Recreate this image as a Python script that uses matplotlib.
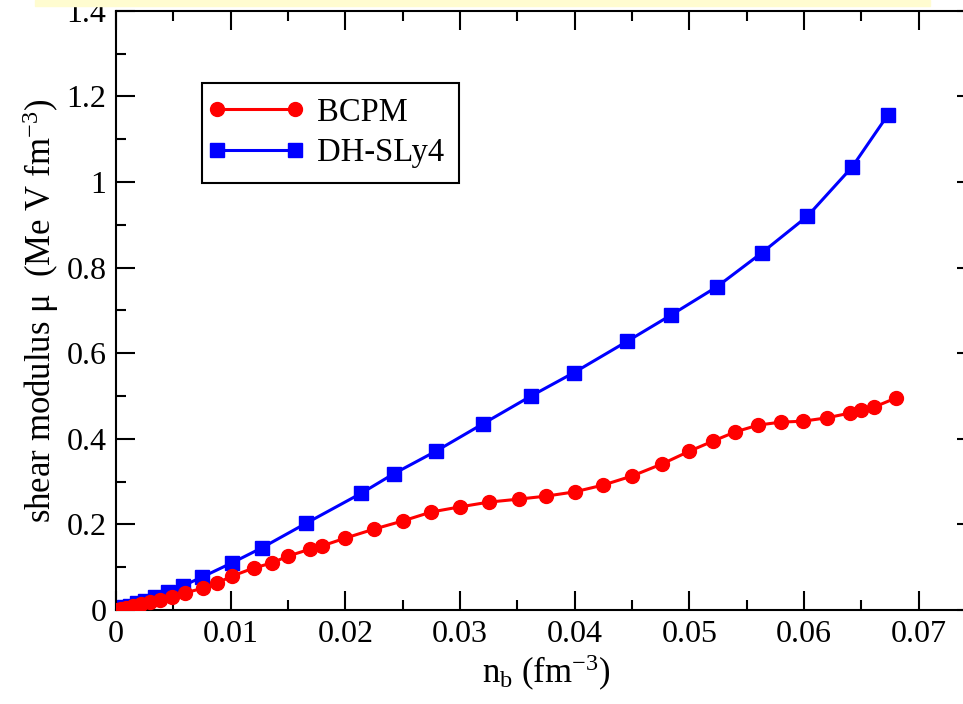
import matplotlib
matplotlib.use('Agg')
import matplotlib.pyplot as plt
from matplotlib.ticker import MultipleLocator, FormatStrFormatter
from matplotlib.patches import Rectangle
from matplotlib.lines import Line2D
from matplotlib.legend_handler import HandlerLine2D

# BCPM crust shear modulus
nb_bcpm = [0.0001, 0.0004, 0.0009, 0.0015, 0.0022, 0.0030, 0.0038, 0.0049, 0.0060,
           0.0076, 0.0088, 0.0101, 0.0120, 0.0136, 0.0150, 0.0169, 0.0180, 0.0200,
           0.0225, 0.0250, 0.0275, 0.0300, 0.0325, 0.0351, 0.0375, 0.0400, 0.0425,
           0.0450, 0.0476, 0.0500, 0.0521, 0.0540, 0.0560, 0.0580, 0.0599, 0.0620,
           0.0640, 0.0650, 0.0661, 0.0680]
mu_bcpm = [0.0005, 0.002, 0.005, 0.009, 0.013, 0.018, 0.023, 0.030, 0.040,
           0.051, 0.063, 0.079, 0.098, 0.110, 0.126, 0.142, 0.150, 0.168,
           0.189, 0.208, 0.229, 0.241, 0.252, 0.259, 0.266, 0.276, 0.292,
           0.313, 0.341, 0.371, 0.395, 0.416, 0.432, 0.439, 0.441, 0.449,
           0.460, 0.467, 0.474, 0.495]

# DH-SLy4
nb_sly4 = [0.0003, 0.0007, 0.0012, 0.0018, 0.0025, 0.0034, 0.0045, 0.0058, 0.0075,
           0.0101, 0.0127, 0.0166, 0.0214, 0.0242, 0.0279, 0.0320, 0.0362, 0.0399,
           0.0446, 0.0484, 0.0524, 0.0563, 0.0603, 0.0642, 0.0673]
mu_sly4 = [0.003, 0.006, 0.010, 0.016, 0.022, 0.030, 0.042, 0.056, 0.077,
           0.110, 0.145, 0.203, 0.273, 0.318, 0.371, 0.435, 0.500, 0.554,
           0.628, 0.689, 0.755, 0.834, 0.920, 1.035, 1.156]

plt.rcParams['font.family'] = ['Liberation Serif', 'DejaVu Serif']
plt.rcParams['mathtext.default'] = 'regular'

fig = plt.figure(figsize=(9.63, 7.04), dpi=100)
# axes run past the right edge, like the cropped original
ax = fig.add_axes([0.1205, 0.1335, 0.893, 0.8513])

# pale yellow strip at the very top
fig.patches.append(Rectangle((35/963, 1-6/704), (930-35)/963, 6/704,
                             transform=fig.transFigure, color='#fffcd0', zorder=0))

# red drawn on top of blue near the origin
l_bcpm, = ax.plot(nb_bcpm, mu_bcpm, color='red', marker='o', ms=10, lw=2.2,
                  label='BCPM', zorder=3)
l_sly4, = ax.plot(nb_sly4, mu_sly4, color='blue', marker='s', ms=9.5, lw=2.2,
                  label='DH-SLy4', zorder=2)

ax.set_xlim(0, 0.075)
ax.set_ylim(0, 1.4)
ax.xaxis.set_major_locator(MultipleLocator(0.01))
ax.xaxis.set_minor_locator(MultipleLocator(0.005))
ax.yaxis.set_major_locator(MultipleLocator(0.2))
ax.yaxis.set_minor_locator(MultipleLocator(0.1))
ax.xaxis.set_major_formatter(FormatStrFormatter('%g'))
ax.yaxis.set_major_formatter(FormatStrFormatter('%g'))
ax.tick_params(which='both', direction='in', top=True, right=True, width=1.5,
               labelsize=23)
ax.tick_params(which='major', length=13.5, pad=7)
ax.tick_params(which='minor', length=7)
for s in ax.spines.values():
    s.set_linewidth(1.5)

ax.set_xlabel('n$_b$ (fm$^{-3}$)', fontsize=25, labelpad=3)
ax.set_ylabel('shear modulus μ  (Me V fm$^{-3}$)', fontsize=25, labelpad=4)

# markers sit right at both ends of the legend line
leg = ax.legend(handles=[l_bcpm, l_sly4], loc='upper left', bbox_to_anchor=(0.1, 0.88),
                borderaxespad=0, fontsize=23.5, numpoints=2, handlelength=2.4,
                handletextpad=0.67, labelspacing=0.3, borderpad=0.45, fancybox=False,
                framealpha=1, edgecolor='black',
                handler_map={Line2D: HandlerLine2D(marker_pad=0)})
leg.get_frame().set_linewidth(1.5)

plt.savefig('out.png', dpi=100)
